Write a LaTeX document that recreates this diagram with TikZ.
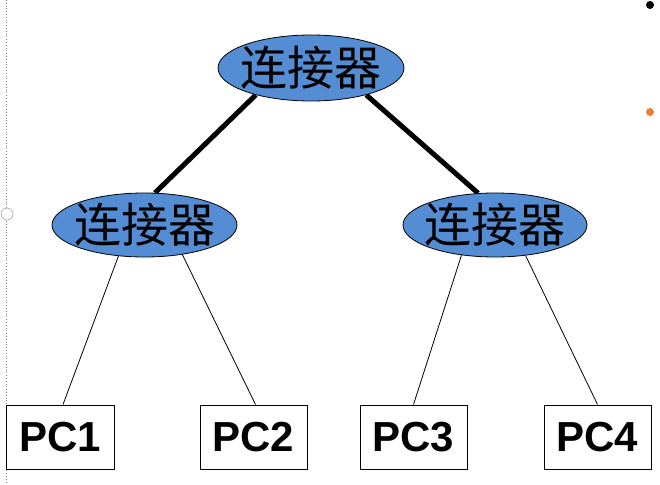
\documentclass[tikz,border=0pt]{standalone}
\usepackage{fontspec}
\setmainfont{Liberation Sans}
\newfontfamily\cjk{Noto Sans CJK SC}
\usetikzlibrary{shapes.geometric,backgrounds}
\definecolor{ellblue}{RGB}{84,141,212}
\definecolor{dotorange}{RGB}{237,125,49}
\newcommand{\centred}[1]{\raisebox{-0.38em}[0pt][0pt]{\makebox[0pt]{#1}}}
\tikzset{
  conn/.style={ellipse, draw=black, line width=0.8pt, fill=ellblue, inner sep=0pt,
    font=\cjk\fontsize{47}{47}\selectfont},
  pcbox/.style={rectangle, draw=black, line width=1pt, fill=white, inner sep=0pt,
    minimum height=64pt, font=\fontsize{42}{42}\selectfont\bfseries},
  thick link/.style={line width=5pt},
  thin link/.style={line width=0.8pt},
}
\begin{document}
\begin{tikzpicture}[x=1pt,y=-1pt]
\useasboundingbox (0,0) rectangle (660,484);
% slide artifacts
\draw[gray, dotted, line width=0.8pt] (6.5,0) -- (6.5,484);
\node[circle, draw=gray, fill=white, minimum size=12pt, inner sep=0pt] (handle) at (7,214) {};
\node[circle, fill=black, minimum size=8pt, inner sep=0pt] (bdot) at (650,5) {};
\node[circle, fill=dotorange, minimum size=8pt, inner sep=0pt] (odot) at (650,112) {};
% nodes
\node[conn, minimum width=186pt, minimum height=66pt] (top) at (311,68) {\centred{连接器}};
\node[conn, minimum width=185pt, minimum height=64pt] (left) at (144.5,225) {\centred{连接器}};
\node[conn, minimum width=184pt, minimum height=64pt] (right) at (495,225) {\centred{连接器}};
\node[pcbox, minimum width=108pt] (pc1) at (60,437) {PC1};
\node[pcbox, minimum width=107pt] (pc2) at (253.5,437) {PC2};
\node[pcbox, minimum width=107pt] (pc3) at (413.5,437) {PC3};
\node[pcbox, minimum width=107pt] (pc4) at (597.5,437) {PC4};
% connectors
\begin{scope}[on background layer]
\draw[thick link] (top.206) -- (left.72);
\draw[thick link] (top.334) -- (right.118);
\draw[thin link] (left.230) -- ([xshift=3pt]pc1.north);
\draw[thin link] (left.322) -- ([xshift=2pt]pc2.north);
\draw[thin link] (right.222) -- (pc3.north);
\draw[thin link] (right.315) -- (pc4.north);
\end{scope}
\end{tikzpicture}
\end{document}
